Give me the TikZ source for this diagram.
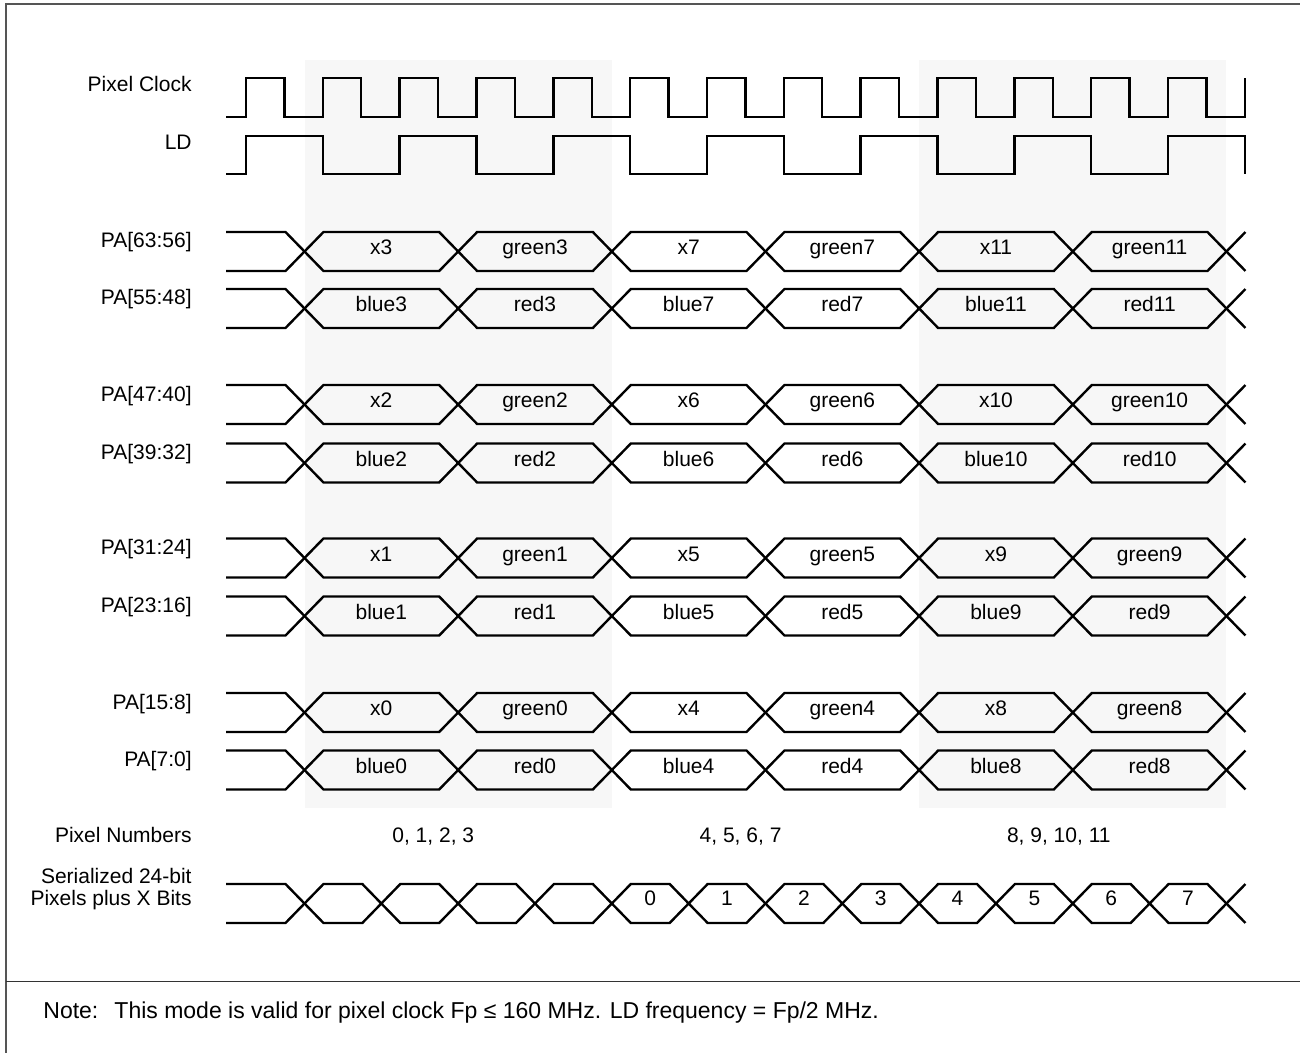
\documentclass[tikz,border=0pt]{standalone}
\usepackage{fontspec}
\setmainfont{Liberation Sans}
\definecolor{shadecol}{HTML}{F7F7F7}
\definecolor{framecol}{HTML}{555555}
\tikzset{
  sig/.style={line width=1.2pt, black, line join=miter},
  lbl/.style={anchor=base east, font=\fontsize{10.5}{11}\selectfont, inner sep=0pt},
  bustxt/.style={anchor=base, font=\fontsize{10.5}{12}\selectfont, inner sep=0pt},
  numtxt/.style={anchor=base west, font=\fontsize{10.5}{12}\selectfont, inner sep=0pt},
  notetxt/.style={anchor=base west, font=\fontsize{11.5}{13}\selectfont, inner sep=0pt},
}
\begin{document}
\begin{tikzpicture}[x=0.5pt,y=-0.5pt]
\useasboundingbox (0,0) rectangle (1300,1053);
\def\P{76.83}
\def\Czero{304.5}
\def\H{19}
% shaded windows
\fill[shadecol] (\Czero,60) rectangle ({\Czero+4*\P},808);
\fill[shadecol] ({\Czero+8*\P},60) rectangle ({\Czero+12*\P},808);
% frame
\draw[framecol, line width=1pt] (6,1053) -- (6,4.5) -- (1300,4.5);
\draw[black!80, line width=0.7pt] (6,981.5) -- (1300,981.5);
% Pixel clock
\node[lbl] (lclk) at (192,92) {Pixel Clock};
\draw[sig] (226,117) \foreach \k in {0,...,12} { -- ({246+\k*\P},117) -- ({246+\k*\P},78) -- ({246+(\k+0.5)*\P},78) -- ({246+(\k+0.5)*\P},117) } -- ({246+13*\P},117) -- ({246+13*\P},78);
% LD
\node[lbl] (lld) at (192,150) {LD};
\draw[sig] (226,174) \foreach \k in {0,2,...,12} { -- ({246+\k*\P},174) -- ({246+\k*\P},136) -- ({246+(\k+1)*\P},136) -- ({246+(\k+1)*\P},174) };
% PA buses
\foreach \ym/\lab/\n/\up [count=\r] in {
  251.5/{PA[63:56]}/3/1, 308.5/{PA[55:48]}/3/0,
  404.5/{PA[47:40]}/2/1, 463/{PA[39:32]}/2/0,
  558/{PA[31:24]}/1/1, 616/{PA[23:16]}/1/0,
  712.5/{PA[15:8]}/0/1, 770/{PA[7:0]}/0/0} {
  \node[lbl] (lab\r) at (192,{\ym-19.5+16}) {\lab};
  \draw[sig] (226,{\ym-19.5}) -- ({\Czero-\H},{\ym-19.5}) -- (\Czero,\ym) -- ({\Czero-\H},{\ym+19.5}) -- (226,{\ym+19.5});
  \foreach \j in {0,...,5} {
    \pgfmathsetmacro\xa{\Czero+2*\j*\P}
    \pgfmathsetmacro\xb{\Czero+2*(\j+1)*\P}
    \draw[sig] (\xa,\ym) -- ({\xa+\H},{\ym-19.5}) -- ({\xb-\H},{\ym-19.5}) -- (\xb,\ym) -- ({\xb-\H},{\ym+19.5}) -- ({\xa+\H},{\ym+19.5}) -- cycle;
    \pgfmathtruncatemacro\idx{\n+4*int(\j/2)}
    \pgfmathtruncatemacro\odd{mod(\j,2)}
    \ifnum\up=1
      \ifnum\odd=0 \def\tx{x\idx}\else\def\tx{green\idx}\fi
    \else
      \ifnum\odd=0 \def\tx{blue\idx}\else\def\tx{red\idx}\fi
    \fi
    \node[bustxt] (t\r-\j) at ({(\xa+\xb)/2},{\ym+3}) {\tx};
  }
  \draw[sig] ({\Czero+12*\P},\ym) -- ({\Czero+12*\P+\H},{\ym-19.5});
  \draw[sig] ({\Czero+12*\P},\ym) -- ({\Czero+12*\P+\H},{\ym+19.5});
}
% Pixel numbers
\node[lbl] (lpn) at (192,842) {Pixel Numbers};
\node[numtxt] (pn0) at (392,842) {0, 1, 2, 3};
\node[numtxt] (pn1) at ({392+4*\P},842) {4, 5, 6, 7};
\node[numtxt] (pn2) at ({392+8*\P},842) {8, 9, 10, 11};
% Serialized
\node[lbl] (lser1) at (192,883) {Serialized 24-bit};
\node[lbl] (lser2) at (192,905) {Pixels plus X Bits};
\def\ys{903.5}
\draw[sig] (226,{\ys-19.5}) -- ({\Czero-\H},{\ys-19.5}) -- (\Czero,\ys) -- ({\Czero-\H},{\ys+19.5}) -- (226,{\ys+19.5});
\foreach \j in {0,...,11} {
  \pgfmathsetmacro\xa{\Czero+\j*\P}
  \pgfmathsetmacro\xb{\Czero+(\j+1)*\P}
  \draw[sig] (\xa,\ys) -- ({\xa+\H},{\ys-19.5}) -- ({\xb-\H},{\ys-19.5}) -- (\xb,\ys) -- ({\xb-\H},{\ys+19.5}) -- ({\xa+\H},{\ys+19.5}) -- cycle;
  \ifnum\j>3
    \pgfmathtruncatemacro\sidx{\j-4}
    \node[bustxt] (s\j) at ({(\xa+\xb)/2},{\ys+2}) {\sidx};
  \fi
}
\draw[sig] ({\Czero+12*\P},\ys) -- ({\Czero+12*\P+\H},{\ys-19.5});
\draw[sig] ({\Czero+12*\P},\ys) -- ({\Czero+12*\P+\H},{\ys+19.5});
% Note
\node[notetxt] (note) at (43,1018) {Note:\hspace{0.7em}This mode is valid for pixel clock Fp ≤ 160 MHz. LD frequency = Fp/2 MHz.};
\end{tikzpicture}
\end{document}
